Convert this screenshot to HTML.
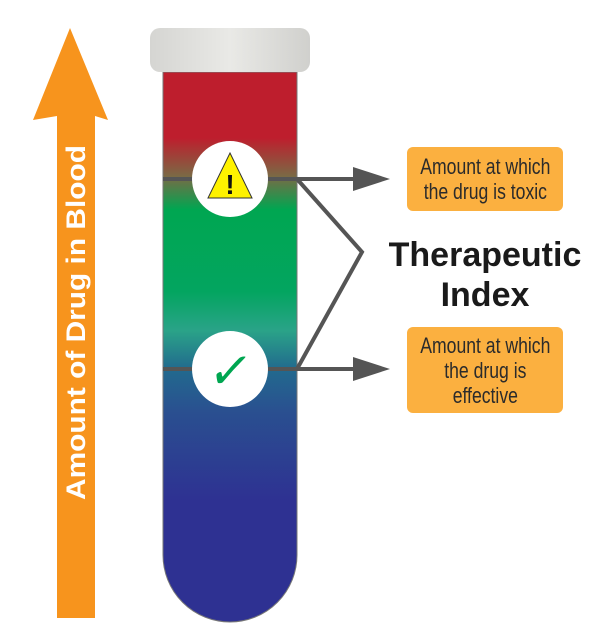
<!DOCTYPE html>
<html><head><style>
html,body{margin:0;padding:0;background:#fff;}
body{width:600px;height:644px;position:relative;overflow:hidden;}
.box{position:absolute;background:#fbb040;border-radius:6px;color:#2b2b2b;font-family:"Liberation Sans",sans-serif;font-size:22px;line-height:25px;text-align:center;display:flex;align-items:center;justify-content:center;}
.box span{display:inline-block;transform:scaleX(0.8);white-space:nowrap;}
</style></head><body>
<svg width="600" height="644" style="position:absolute;left:0;top:0">
<defs>
<linearGradient id="tube" x1="0" y1="72" x2="0" y2="622" gradientUnits="userSpaceOnUse">
<stop offset="0" stop-color="#be1e2d"/>
<stop offset="0.12" stop-color="#be1e2d"/>
<stop offset="0.19" stop-color="#7a6a45"/>
<stop offset="0.25" stop-color="#00a651"/>
<stop offset="0.40" stop-color="#03a560"/>
<stop offset="0.47" stop-color="#2aa388"/>
<stop offset="0.54" stop-color="#226a8e"/>
<stop offset="0.62" stop-color="#2a4f90"/>
<stop offset="0.78" stop-color="#2e3192"/>
<stop offset="1" stop-color="#2e3192"/>
</linearGradient>
<linearGradient id="cap" x1="0" y1="0" x2="1" y2="0">
<stop offset="0" stop-color="#d5d5d2"/><stop offset="0.5" stop-color="#e9e9e6"/><stop offset="1" stop-color="#d0d0cd"/>
</linearGradient>
</defs>
<polygon points="70,28 108,120 95,116 95,618 57,618 57,116 33,120" fill="#f7941d"/>
<text transform="translate(85,500) rotate(-90)" font-family="Liberation Sans,sans-serif" font-weight="bold" font-size="27" fill="#fff" textLength="355" lengthAdjust="spacingAndGlyphs">Amount of Drug in Blood</text>
<path d="M163,72 H297 V555 A67,67 0 0 1 163,555 Z" fill="url(#tube)" stroke="#777" stroke-width="1"/>
<rect x="150" y="28" width="160" height="44" rx="10" fill="url(#cap)"/>
<g stroke="#555" stroke-width="4" fill="none">
<line x1="163" y1="179" x2="356" y2="179"/>
<line x1="163" y1="369" x2="356" y2="369"/>
<polyline points="297,179 362,252 297,369"/>
</g>
<polygon points="353,167 390,179 353,191" fill="#555"/>
<polygon points="353,357 390,369 353,381" fill="#555"/>
<circle cx="230" cy="179" r="38" fill="#fff"/>
<polygon points="230,153 252,198 208,198" fill="#fff200" stroke="#333" stroke-width="1"/>
<text x="230" y="194" text-anchor="middle" font-family="Liberation Sans,sans-serif" font-weight="bold" font-size="28" fill="#111">!</text>
<circle cx="230" cy="369" r="38" fill="#fff"/>
<text x="230" y="388" text-anchor="middle" font-family="DejaVu Sans,sans-serif" font-weight="bold" font-size="50" fill="#00a651" transform="skewX(-10) translate(66,0)">✓</text>
<text x="485" y="266" text-anchor="middle" font-family="Liberation Sans,sans-serif" font-weight="bold" font-size="34" fill="#1a1a1a">Therapeutic</text>
<text x="485" y="306" text-anchor="middle" font-family="Liberation Sans,sans-serif" font-weight="bold" font-size="34" fill="#1a1a1a">Index</text>
</svg>
<div class="box" style="left:407px;top:147px;width:156px;height:64px;"><span>Amount at which<br>the drug is toxic</span></div>
<div class="box" style="left:407px;top:327px;width:156px;height:86px;"><span>Amount at which<br>the drug is<br>effective</span></div>
</body></html>
